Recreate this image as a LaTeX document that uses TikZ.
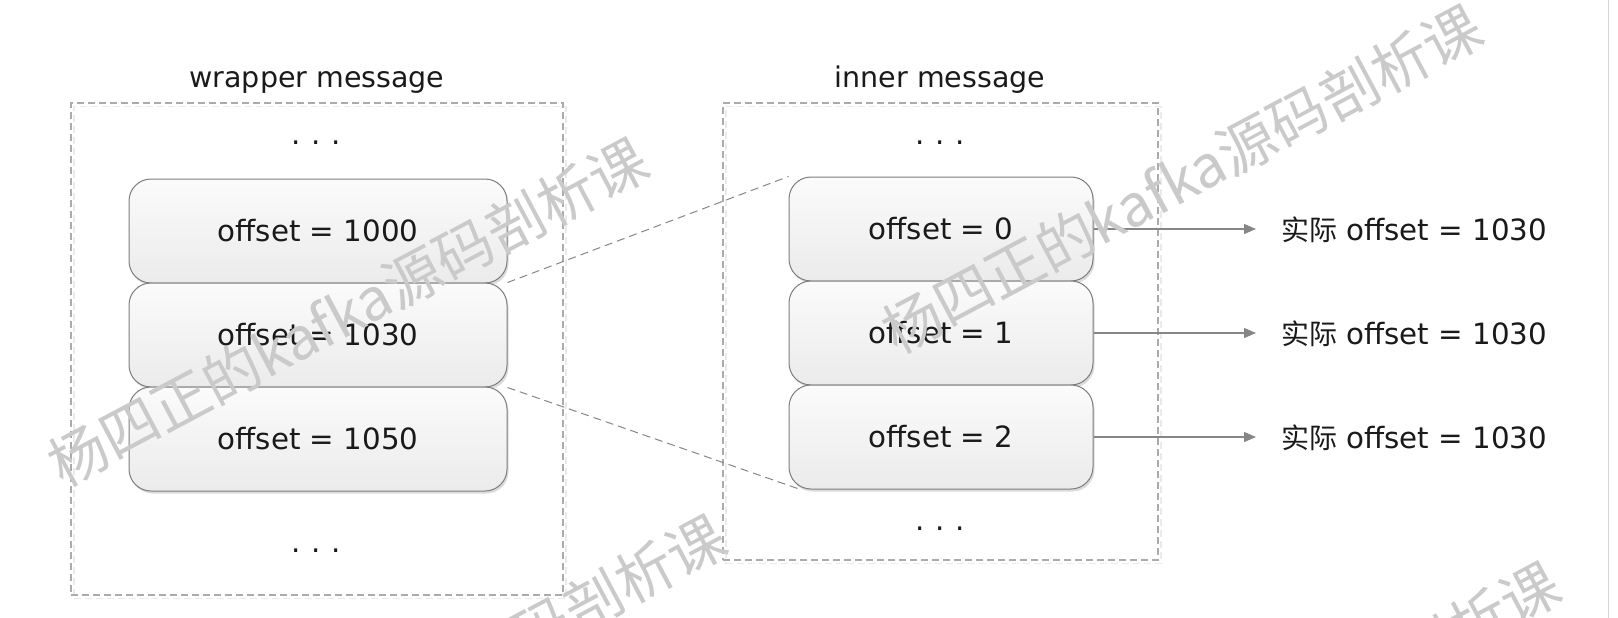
\documentclass[tikz,border=0pt]{standalone}
\usepackage{fontspec}
\setmainfont{DejaVu Sans}
\newfontfamily\cjkfont{Noto Sans CJK SC}
\usetikzlibrary{arrows.meta}
\definecolor{txt}{HTML}{1A1A1A}
\definecolor{boxline}{HTML}{7E7E7E}
\definecolor{boxtop}{HTML}{FBFBFB}
\definecolor{boxbot}{HTML}{EBEBEB}
\definecolor{frameline}{HTML}{ABABAB}
\definecolor{frameshade}{HTML}{EAEAEA}
\definecolor{conline}{HTML}{868686}
\definecolor{wmgrey}{HTML}{CACACA}
\begin{document}
\begin{tikzpicture}[x=1pt,y=-1pt,
  msg/.style={draw=boxline, line width=1pt, rounded corners=22pt,
    top color=boxtop, bottom color=boxbot, minimum height=104pt, inner sep=0pt,
    text=txt, font=\fontsize{29.3}{34}\selectfont,
    preaction={fill=black!14, transform canvas={xshift=1.5pt, yshift=-2.5pt}}},
  wbox/.style={msg, minimum width=378pt},
  ibox/.style={msg, minimum width=304pt},
  frame/.style={draw=frameline, line width=1.4pt, dash pattern=on 7pt off 4pt,
    inner sep=0pt,
    preaction={draw=frameshade, transform canvas={xshift=3pt, yshift=-3.5pt}}},
  title/.style={text=txt, font=\fontsize{28.5}{34}\selectfont, inner sep=0pt},
  dots/.style={text=txt, font=\fontsize{29.3}{34}\selectfont, inner sep=0pt},
  lab/.style={text=txt, font=\fontsize{29.3}{34}\selectfont, inner sep=0pt},
  dline/.style={draw=conline, line width=1pt, dash pattern=on 8pt off 5pt},
  conn/.style={draw=conline, line width=1.2pt, -{Triangle[length=12pt, width=10pt]}},
  wm/.style={text=wmgrey, font=\cjkfont\fontsize{58}{60}\selectfont, inner sep=0pt}
]
\useasboundingbox (0,0) rectangle (1618,618);
\fill[white] (0,0) rectangle (1618,618);

% dashed frames
\node[frame, minimum width=492pt, minimum height=492pt] (wf) at (317,349) {};
\node[frame, minimum width=435pt, minimum height=457pt] (if) at (940.5,331.5) {};

% titles
\node[title, anchor=base] (wt) at (317,87.5) {wrapper message};
\node[title, anchor=base] (it) at (940,87.5) {inner message};

% ellipses
\node[dots, anchor=base] (wd1) at (316,144) {.\hspace{10.5pt}.\hspace{10.5pt}.};
\node[dots, anchor=base] (wd2) at (316,552.5) {.\hspace{10.5pt}.\hspace{10.5pt}.};
\node[dots, anchor=base] (id1) at (940,144) {.\hspace{10.5pt}.\hspace{10.5pt}.};
\node[dots, anchor=base] (id2) at (940,530.5) {.\hspace{10.5pt}.\hspace{10.5pt}.};

% wrapper message boxes
\node[wbox] (w1) at (318,231) {offset = 1000};
\node[wbox] (w2) at (318,335) {offset = 1030};
\node[wbox] (w3) at (318,439) {offset = 1050};

% inner message boxes
\node[ibox] (i1) at (941,229) {offset = 0};
\node[ibox] (i2) at (941,333) {offset = 1};
\node[ibox] (i3) at (941,437) {offset = 2};

% dashed expansion lines
\draw[dline] (w2.north east) -- (i1.north west);
\draw[dline] (w2.south east) -- ([xshift=12pt]i3.south west);

% arrows and labels
\coordinate (t1) at (1256,229);
\coordinate (t2) at (1256,333);
\coordinate (t3) at (1256,437);
\draw[conn] (i1.east) -- (t1);
\draw[conn] (i2.east) -- (t2);
\draw[conn] (i3.east) -- (t3);
\node[lab, anchor=base west] (l1) at (1281,240) {{\cjkfont\fontsize{28}{34}\selectfont 实际} offset = 1030};
\node[lab, anchor=base west] (l2) at (1281,344) {{\cjkfont\fontsize{28}{34}\selectfont 实际} offset = 1030};
\node[lab, anchor=base west] (l3) at (1281,448) {{\cjkfont\fontsize{28}{34}\selectfont 实际} offset = 1030};

% right edge line
\draw[draw=black!17, line width=1.2pt] (1608.5,0) -- (1608.5,618);

% watermarks
\node[wm, rotate=28] (wm1) at (348,311.5) {杨四正的kafka源码剖析课};
\node[wm, rotate=28] (wm2) at (1182,178.5) {杨四正的kafka源码剖析课};
\node[wm, rotate=28] (wm3) at (426,689) {杨四正的kafka源码剖析课};
\node[wm, rotate=28] (wm4) at (1260,736) {杨四正的kafka源码剖析课};
\end{tikzpicture}
\end{document}
